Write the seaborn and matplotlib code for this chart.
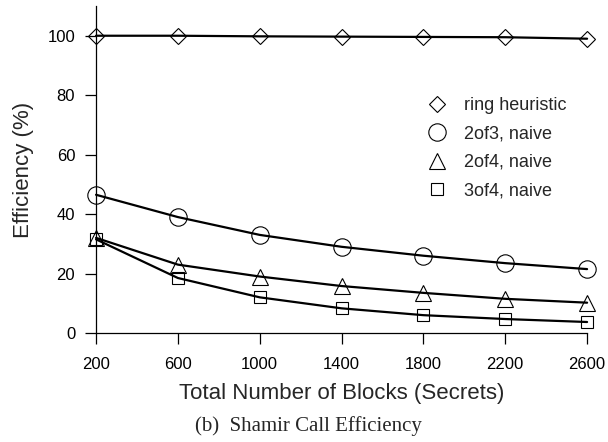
import matplotlib
matplotlib.use("Agg")
import matplotlib.pyplot as plt
from matplotlib.lines import Line2D
import seaborn as sns
import pandas as pd

blocks = [200, 600, 1000, 1400, 1800, 2200, 2600]
ring_heuristic = [100, 100, 99.8, 99.7, 99.6, 99.5, 99.0]
naive_2of3 = [46.5, 39, 33, 29, 26, 23.5, 21.5]
naive_2of4 = [32, 23, 19, 15.8, 13.5, 11.5, 10.2]
naive_3of4 = [31.5, 18.5, 12, 8.3, 6, 4.7, 3.7]
labels = ["ring heuristic", "2of3, naive", "2of4, naive", "3of4, naive"]
markers = ["D", "o", "^", "s"]
msizes = [8.0, 12.5, 11, 9.3]

sns.set_style("ticks")
plt.rcParams['font.family'] = ['Liberation Sans', 'DejaVu Sans']

fig = plt.figure(figsize=(6.08, 4.42), dpi=100)
ax = fig.add_axes([0.158, 0.2466, 0.8076, 0.7398])

for vals, lab, m, ms in zip([ring_heuristic, naive_2of3, naive_2of4, naive_3of4], labels, markers, msizes):
    df = pd.DataFrame({"x": blocks, "y": vals})
    sns.lineplot(data=df, x="x", y="y", ax=ax, color="black", linewidth=1.6,
                 marker=m, markersize=ms, markerfacecolor="none",
                 markeredgecolor="black", markeredgewidth=0.8, clip_on=False, legend=False)

ax.set_xlim(200, 2600)
ax.set_ylim(0, 110)
ax.set_xticks(blocks)
ax.set_yticks([0, 20, 40, 60, 80, 100])
ax.tick_params(axis="both", direction="out", length=8, width=0.9, labelsize=12, colors="black", pad=7)
ax.tick_params(axis="x", pad=9)
ax.spines["top"].set_visible(False)
ax.spines["right"].set_visible(False)
for s in ["left", "bottom"]:
    ax.spines[s].set_linewidth(0.9)
    ax.spines[s].set_color("black")
ax.set_xlabel("Total Number of Blocks (Secrets)", fontsize=16, labelpad=8)
ax.set_ylabel("Efficiency (%)", fontsize=16, labelpad=10)

handles = [Line2D([], [], linestyle="none", marker=m, markersize=ms, markerfacecolor="none",
                  markeredgecolor="black", markeredgewidth=0.8) for m, ms in zip(markers, msizes)]
ax.legend(handles, labels, loc="upper left", bbox_to_anchor=(0.643, 0.77), frameon=False,
          fontsize=13, handlelength=1.0, handletextpad=1.0, labelspacing=0.62)

fig.text(0.507, 0.037, "(b)  Shamir Call Efficiency", ha="center", va="center",
         fontsize=15, family=["Liberation Serif", "DejaVu Serif"])

fig.savefig("out.png", dpi=100)
